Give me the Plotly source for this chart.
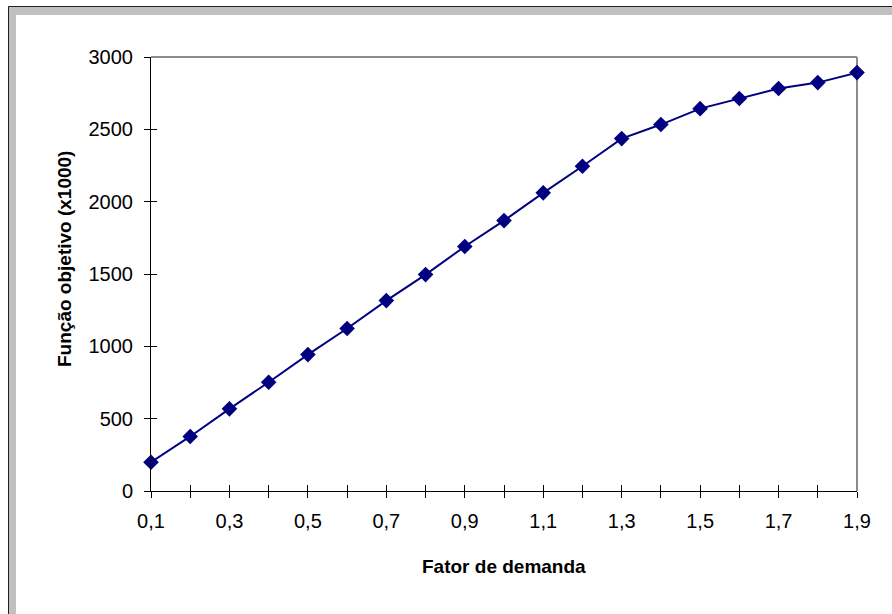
import plotly.graph_objects as go

# ---- data ----
fator_demanda = [0.1, 0.2, 0.3, 0.4, 0.5, 0.6, 0.7, 0.8, 0.9, 1.0,
                 1.1, 1.2, 1.3, 1.4, 1.5, 1.6, 1.7, 1.8, 1.9]
funcao_objetivo = [199, 377, 568, 752, 943, 1123, 1316, 1496, 1690, 1869,
                   2061, 2245, 2436, 2533, 2643, 2713, 2782, 2823, 2892]
x_tick_labels = ["0,1", "", "0,3", "", "0,5", "", "0,7", "", "0,9", "",
                 "1,1", "", "1,3", "", "1,5", "", "1,7", "", "1,9"]
y_tick_values = [0, 500, 1000, 1500, 2000, 2500, 3000]
y_tick_labels = ["0", "500", "1000", "1500", "2000", "2500", "3000"]
x_title = "Fator de demanda"
y_title = "Função objetivo (x1000)"

# ---- layout geometry ----
W, H = 892, 614
L, R, T, B = 151, 35, 57, 123
PW, PH = W - L - R, H - T - B


def px(x):
    return (x - L) / PW


def py(y):
    return (H - B - y) / PH


FONT = "Liberation Sans, Arial, sans-serif"

fig = go.Figure()
fig.add_trace(go.Scatter(
    x=fator_demanda, y=funcao_objetivo, mode="lines+markers",
    line=dict(color="#000080", width=2),
    marker=dict(symbol="diamond", size=12, color="#000080"),
    cliponaxis=False, showlegend=False,
))
# invisible trace to activate overlay axes for inward ticks
fig.add_trace(go.Scatter(x=fator_demanda, y=funcao_objetivo, xaxis="x2", yaxis="y2",
                         mode="lines", line=dict(width=0), opacity=0,
                         hoverinfo="skip", showlegend=False))

axis_font = dict(family=FONT, size=20, color="black")
fig.update_layout(
    width=W, height=H,
    margin=dict(l=L, r=R, t=T, b=B),
    paper_bgcolor="white",
    plot_bgcolor="rgba(0,0,0,0)",
    separators=",.",
    xaxis=dict(
        range=[0.1, 1.9], tickmode="array", tickvals=fator_demanda, ticktext=x_tick_labels,
        showgrid=False, zeroline=False, showline=True, linecolor="black", linewidth=1,
        ticks="outside", ticklen=6, tickcolor="black", tickwidth=1,
        tickfont=axis_font, ticklabelstandoff=6,
    ),
    yaxis=dict(
        range=[0, 3000], tickmode="array", tickvals=y_tick_values, ticktext=y_tick_labels,
        showgrid=False, zeroline=False, showline=True, linecolor="black", linewidth=1,
        ticks="outside", ticklen=6, tickcolor="black", tickwidth=1,
        tickfont=axis_font, ticklabelstandoff=7,
    ),
    xaxis2=dict(
        overlaying="x", matches="x", side="bottom", anchor="y",
        tickmode="array", tickvals=fator_demanda, showticklabels=False,
        showgrid=False, zeroline=False, showline=False,
        ticks="inside", ticklen=6, tickcolor="black", tickwidth=1,
    ),
    yaxis2=dict(
        overlaying="y", matches="y", side="left", anchor="x",
        tickmode="array", tickvals=y_tick_values, showticklabels=False,
        showgrid=False, zeroline=False, showline=False,
        ticks="inside", ticklen=6, tickcolor="black", tickwidth=1,
    ),
    shapes=[
        # outer chart frame (gray band + dark edge)
        dict(type="rect", xref="paper", yref="paper", layer="below",
             x0=px(8), y0=py(6), x1=px(W + 20), y1=py(H + 20),
             fillcolor="#c0c0c0", line=dict(width=0)),
        dict(type="rect", xref="paper", yref="paper", layer="below",
             x0=px(16), y0=py(15), x1=px(W + 20), y1=py(H + 20),
             fillcolor="white", line=dict(width=0)),
        dict(type="line", xref="paper", yref="paper", layer="below",
             x0=px(8.5), y0=py(6.5), x1=px(W + 20), y1=py(6.5),
             line=dict(color="#202020", width=1)),
        dict(type="line", xref="paper", yref="paper", layer="below",
             x0=px(8.5), y0=py(6.5), x1=px(8.5), y1=py(H + 20),
             line=dict(color="#202020", width=1)),
        # plot area border top/right (gray)
        dict(type="line", xref="paper", yref="paper", layer="below",
             x0=0, y0=1, x1=1, y1=1, line=dict(color="#8c8c8c", width=2)),
        dict(type="line", xref="paper", yref="paper", layer="below",
             x0=1, y0=0, x1=1, y1=1, line=dict(color="#8c8c8c", width=2)),
    ],
    annotations=[
        dict(text="<b>" + x_title + "</b>", xref="paper", yref="paper",
             x=px(503.5), y=py(566), xanchor="center", yanchor="middle",
             showarrow=False, font=dict(family=FONT, size=19, color="black")),
        dict(text="<b>" + y_title + "</b>", xref="paper", yref="paper",
             x=px(64), y=py(259), xanchor="center", yanchor="middle", textangle=-90,
             showarrow=False, font=dict(family=FONT, size=19, color="black")),
    ],
)

fig.write_html("out.html")
